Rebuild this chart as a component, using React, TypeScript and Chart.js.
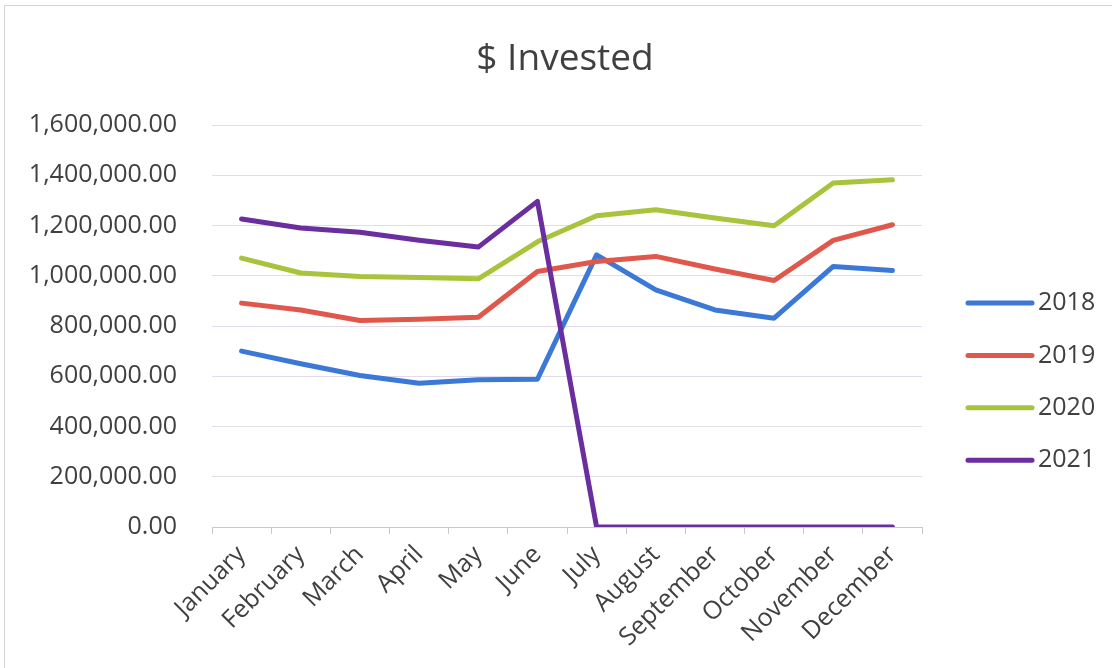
import React, { useEffect, useRef } from "react";
import { Chart, registerables } from "chart.js";

Chart.register(...registerables);

const months = [
  "January", "February", "March", "April", "May", "June",
  "July", "August", "September", "October", "November", "December",
];

const invested2018 = [700000, 650000, 603000, 572000, 586000, 588000, 1083000, 944000, 864000, 831000, 1037000, 1021000];
const invested2019 = [891000, 864000, 822000, 827000, 835000, 1017000, 1057000, 1077000, 1027000, 981000, 1141000, 1203000];
const invested2020 = [1070000, 1011000, 997000, 993000, 988000, 1135000, 1239000, 1263000, 1230000, 1199000, 1369000, 1382000];
const invested2021 = [1226000, 1190000, 1173000, 1141000, 1114000, 1296000, 0, 0, 0, 0, 0, 0];

const seriesLabels = ["2018", "2019", "2020", "2021"];
const seriesColors = ["#3c78d6", "#e0574b", "#a8c43c", "#6a2e9e"];

const yTickMin = 0;
const yTickMax = 1600000;
const yTickStep = 200000;

const FONT = "'Open Sans', 'DejaVu Sans', sans-serif";
const TEXT_COLOR = "#404040";

const sideLegend = {
  id: "sideLegend",
  afterDraw(chart: any) {
    const ctx = chart.ctx;
    const lineStart = 968;
    const lineEnd = 1032;
    const textX = 1038;
    const firstY = 303;
    const step = 52.4;
    ctx.save();
    chart.data.datasets.forEach((ds: any, i: number) => {
      const y = firstY + i * step;
      ctx.strokeStyle = ds.borderColor;
      ctx.lineWidth = 5;
      ctx.lineCap = "round";
      ctx.beginPath();
      ctx.moveTo(lineStart, y);
      ctx.lineTo(lineEnd, y);
      ctx.stroke();
      ctx.fillStyle = TEXT_COLOR;
      ctx.font = `25px ${FONT}`;
      ctx.textAlign = "left";
      ctx.textBaseline = "middle";
      ctx.fillText(ds.label, textX, y);
    });
    ctx.restore();
  },
};

export default function App() {
  const canvasRef = useRef<HTMLCanvasElement | null>(null);

  useEffect(() => {
    document.body.style.margin = "0";
    const canvas = canvasRef.current;
    if (!canvas) return;
    const seriesValues = [invested2018, invested2019, invested2020, invested2021];
    const chart = new Chart(canvas, {
      type: "line",
      data: {
        labels: months,
        datasets: seriesValues.map((values, i) => ({
          label: seriesLabels[i],
          data: values,
          borderColor: seriesColors[i],
          backgroundColor: seriesColors[i],
          borderWidth: 5,
          pointRadius: 0,
          pointHoverRadius: 0,
          tension: 0,
          fill: false,
          borderJoinStyle: "round" as const,
          borderCapStyle: "round" as const,
          order: seriesValues.length - 1 - i,
          yAxisID: "y",
        })),
      },
      options: {
        responsive: false,
        animation: false,
        events: [],
        layout: { padding: { left: 18, right: 0, top: 0, bottom: 0 } },
        plugins: {
          legend: { display: false },
          tooltip: { enabled: false },
          title: {
            display: true,
            text: "$ Invested",
            color: TEXT_COLOR,
            font: { family: FONT, size: 37, weight: "normal" as any },
            padding: { top: 37, bottom: 43.6 },
          },
        },
        scales: {
          x: {
            type: "category",
            offset: true,
            grid: {
              offset: true,
              drawOnChartArea: false,
              drawTicks: true,
              tickLength: 7,
              color: "#c9c9c9",
            },
            border: { color: "#c9c9c9" },
            ticks: {
              autoSkip: false,
              minRotation: 45,
              maxRotation: 45,
              padding: 6,
              color: TEXT_COLOR,
              font: { family: FONT, size: 25 },
            },
            afterFit(scale: any) {
              scale.height = 141;
            },
          },
          y: {
            position: "left",
            min: yTickMin,
            max: yTickMax,
            grid: { color: "#e2dbec", drawTicks: false, lineWidth: 1 },
            border: { display: false },
            ticks: {
              stepSize: yTickStep,
              padding: 35,
              color: TEXT_COLOR,
              font: { family: FONT, size: 25 },
              callback: (v: any) =>
                Number(v).toLocaleString("en-US", { minimumFractionDigits: 2, maximumFractionDigits: 2 }),
            },
            afterFit(scale: any) {
              scale.width = 194;
            },
          },
          legendSpace: {
            type: "linear",
            position: "right",
            display: true,
            grid: { display: false, drawTicks: false },
            border: { display: false },
            ticks: { display: false },
            afterFit(scale: any) {
              scale.width = 190;
            },
          },
        },
      },
      plugins: [sideLegend],
    });
    return () => chart.destroy();
  }, []);

  return (
    <div style={{ position: "relative", width: 1112, height: 668, background: "#ffffff" }}>
      <canvas ref={canvasRef} width={1112} height={668} style={{ display: "block" }} />
      <div
        style={{
          position: "absolute",
          left: 4,
          top: 5,
          width: 1108,
          height: 663,
          borderTop: "1px solid #d6d6d6",
          borderLeft: "1px solid #d6d6d6",
          pointerEvents: "none",
        }}
      />
    </div>
  );
}
